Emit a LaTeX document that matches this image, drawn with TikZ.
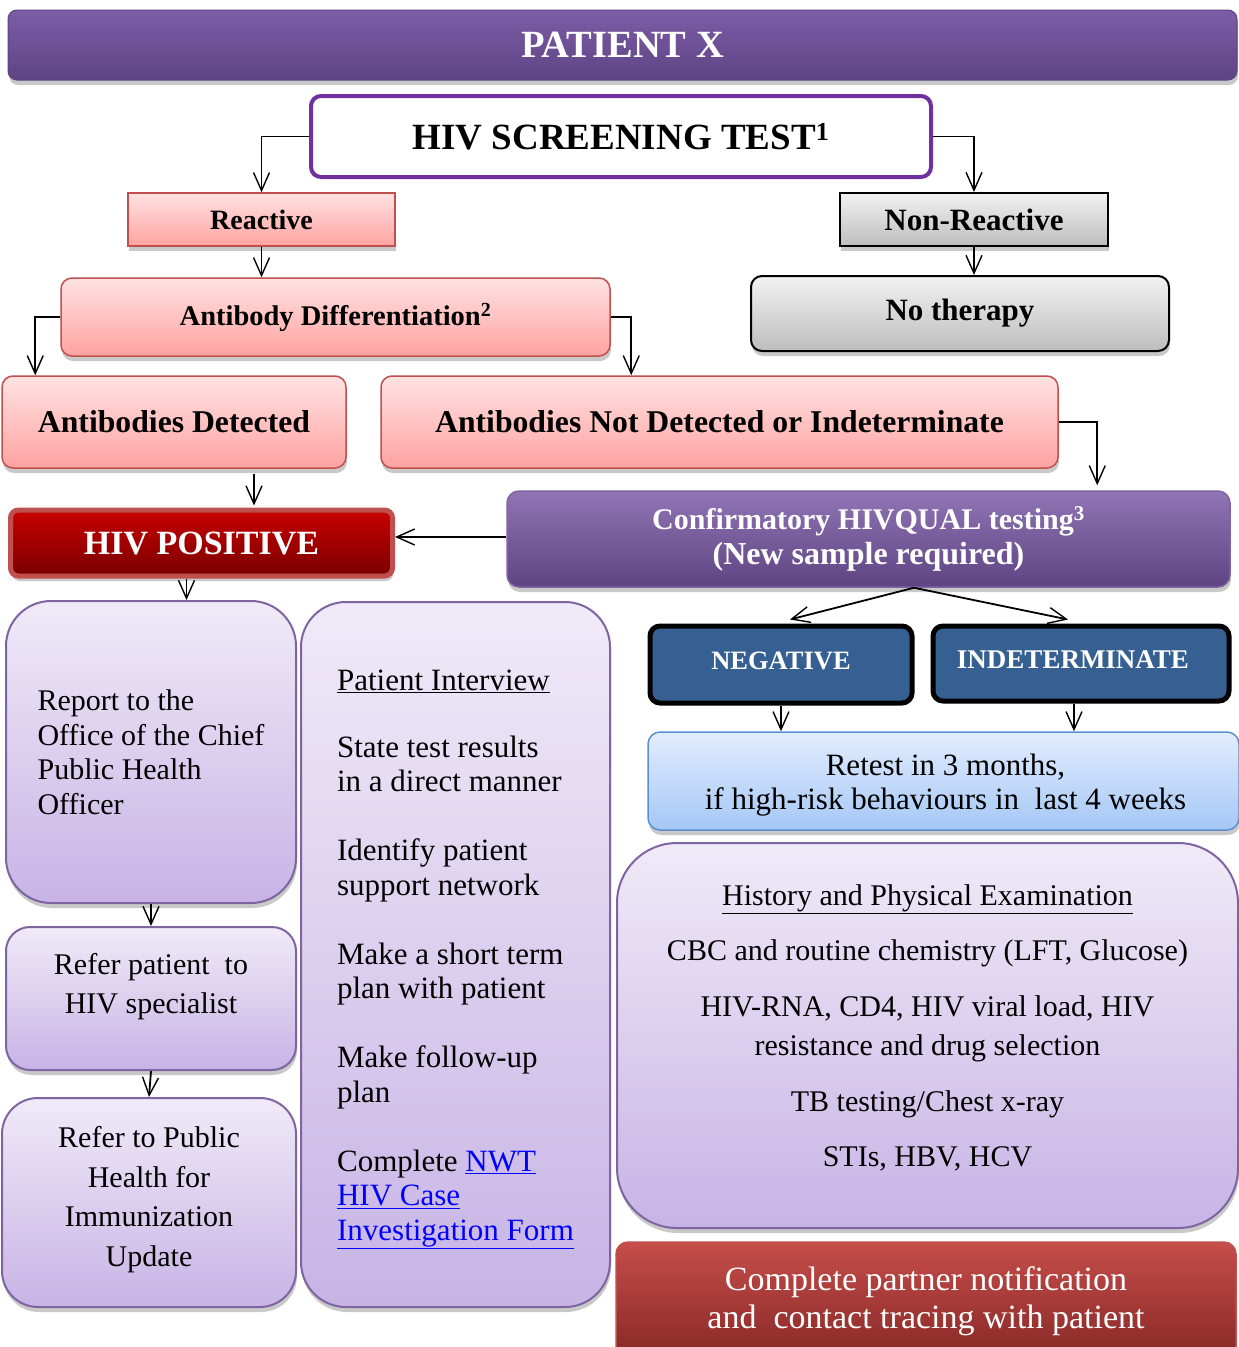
\documentclass[tikz,border=0pt]{standalone}
\usepackage{fontspec}
\setmainfont{Liberation Serif}
\usetikzlibrary{positioning, arrows.meta, shadows}

\definecolor{titletop}{HTML}{7D5CA8}
\definecolor{titlebot}{HTML}{5E4483}
\definecolor{screenline}{HTML}{7030A0}
\definecolor{pinktop}{HTML}{FFE2E2}
\definecolor{pinkbot}{HTML}{FFA3A1}
\definecolor{pinkline}{HTML}{C0504D}
\definecolor{greytop}{HTML}{F2F2F2}
\definecolor{greybot}{HTML}{BDBDBD}
\definecolor{postop}{HTML}{C80000}
\definecolor{posbot}{HTML}{7A0000}
\definecolor{posline}{HTML}{C0504D}
\definecolor{negfill}{HTML}{376092}
\definecolor{bluetop}{HTML}{E2EDFD}
\definecolor{bluebot}{HTML}{A5C7F6}
\definecolor{blueline}{HTML}{5B8FD0}
\definecolor{lavtop}{HTML}{F0EAF8}
\definecolor{lavbot}{HTML}{C7B4E5}
\definecolor{lavline}{HTML}{8064A2}
\definecolor{redtop}{HTML}{C64D4A}
\definecolor{redbot}{HTML}{862826}
\definecolor{linkblue}{HTML}{0000FF}

\newcommand{\doclink}[1]{\textcolor{linkblue}{\underline{#1}}}

\tikzset{
  boxshadow/.style={drop shadow={shadow xshift=1pt, shadow yshift=-5pt, opacity=.35, fill=black!60}},
  titlebar/.style={boxshadow, rounded corners=9pt, draw=titlebot, line width=1pt,
    top color=titletop, bottom color=titlebot, text=white,
    font=\fontsize{38.5}{40}\selectfont\bfseries},
  screenbox/.style={rounded corners=10pt, draw=screenline, line width=4pt, fill=white,
    font=\fontsize{37}{40}\selectfont\bfseries},
  pinkbox/.style={boxshadow, draw=pinkline, line width=1.5pt, top color=pinktop, bottom color=pinkbot,
    rounded corners=11pt, font=\fontsize{29}{34}\selectfont\bfseries},
  greybox/.style={boxshadow, draw=black, line width=2pt, top color=greytop, bottom color=greybot,
    rounded corners=11pt, font=\fontsize{31}{34}\selectfont\bfseries},
  posbox/.style={boxshadow, draw=posline, line width=5pt, top color=postop, bottom color=posbot,
    rounded corners=8pt, text=white, font=\fontsize{34}{38}\selectfont\bfseries},
  confbox/.style={boxshadow, draw=lavline, line width=1.5pt, top color=titletop!85!white, bottom color=titlebot,
    rounded corners=12pt, text=white, align=center, font=\fontsize{30}{35}\selectfont\bfseries},
  resultbox/.style={draw=black, line width=5pt, fill=negfill, rounded corners=10pt},
  resulttext/.style={text=white, font=\fontsize{26.5}{30}\selectfont\bfseries},
  retestbox/.style={boxshadow, draw=blueline, line width=1.5pt, top color=bluetop, bottom color=bluebot,
    rounded corners=12pt},
  lavbox/.style={boxshadow, draw=lavline, line width=2pt, top color=lavtop, bottom color=lavbot,
    font=\fontsize{30}{34.5}\selectfont},
  partnerbox/.style={boxshadow, draw=pinkline, line width=1.5pt, top color=redtop, bottom color=redbot,
    rounded corners=12pt, text=white, align=center, font=\fontsize{34}{38}\selectfont}
}

\begin{document}
\begin{tikzpicture}[x=1pt, y=-1pt, inner sep=0pt,
    >={Straight Barb[length=18pt, width=16pt, line width=1.4pt]},
    flow/.style={->, line width=1.8pt}]
  \useasboundingbox[fill=white] (0,0) rectangle (1239,1347);

  % Top of the chart
  \node[titlebar, minimum width=1229pt, minimum height=70pt] (title) at (622.5,45) {PATIENT X};
  \node[screenbox, minimum width=620pt, minimum height=81pt] (screen) at (621,136.5) {HIV SCREENING TEST\textsuperscript{1}};

  % Screening results
  \node[pinkbox, rounded corners=0pt, minimum width=267pt, minimum height=53pt, font=\fontsize{28}{32}\selectfont\bfseries] (reactive) at (261.5,219.5) {Reactive};
  \node[greybox, rounded corners=0pt, minimum width=268pt, minimum height=53pt] (nonreactive) at (974,219.5) {Non-Reactive};
  \node[pinkbox, minimum width=549pt, minimum height=78pt, font=\fontsize{28.5}{32}\selectfont\bfseries] (abdiff) at (335.5,317) {Antibody Differentiation\textsuperscript{2}};
  \node[greybox, minimum width=418pt, minimum height=75pt] (notherapy) at (960,313.5) {No therapy};

  % Antibody differentiation results
  \node[pinkbox, minimum width=344pt, minimum height=92pt, font=\fontsize{31.7}{34}\selectfont\bfseries] (abdet) at (174,422) {Antibodies Detected};
  \node[pinkbox, minimum width=677pt, minimum height=92pt, font=\fontsize{31.7}{34}\selectfont\bfseries] (abnot) at (719.5,422) {Antibodies Not Detected or Indeterminate};
  \node[posbox, minimum width=382pt, minimum height=66pt] (hivpos) at (201.5,543) {HIV POSITIVE};
  \node[confbox, minimum width=723pt, minimum height=96pt] (confirm) at (868.5,539) {Confirmatory HIVQUAL testing\textsuperscript{3}\\{\fontsize{32}{35}\selectfont (New sample required)}};

  % Confirmatory results
  \node[resultbox, minimum width=262pt, minimum height=77pt] (negative) at (781,664.5) {};
  \node[resulttext] (negativetext) at ([yshift=4pt]negative.center) {NEGATIVE};
  \node[resultbox, minimum width=296pt, minimum height=75pt] (indet) at (1081,663.5) {};
  \node[resulttext, font=\fontsize{27}{30}\selectfont\bfseries] (indettext) at ([xshift=-8pt, yshift=4pt]indet.center) {INDETERMINATE};
  \node[retestbox, minimum width=591pt, minimum height=98pt] (retest) at (943.5,781) {};
  \node[align=center, font=\fontsize{31}{34}\selectfont] (retesttext) at ([xshift=2pt, yshift=-4pt]retest.center)
    {Retest in 3 months,\\if high-risk behaviours in\ \ last 4 weeks};

  % Follow-up for a positive result
  \node[lavbox, rounded corners=45pt, minimum width=290pt, minimum height=302pt, align=left] (report) at (151,752)
    {Report to the\\Office of the Chief\\Public Health\\Officer};
  \node[lavbox, rounded corners=24pt, minimum width=290pt, minimum height=143pt] (referhiv) at (151,998.5) {};
  \node[align=center, font=\fontsize{30}{39}\selectfont] (referhivtext) at ([yshift=12pt]referhiv.center)
    {Refer patient\ \ to\\HIV specialist};
  \node[lavbox, rounded corners=36pt, minimum width=294pt, minimum height=209pt] (referph) at (149,1202.5) {};
  \node[align=center, font=\fontsize{30}{39.5}\selectfont] (referphtext) at ([yshift=3pt]referph.center)
    {Refer to Public\\Health for\\Immunization\\Update};
  \node[lavbox, rounded corners=45pt, minimum width=309pt, minimum height=705pt] (interview) at (455.5,954.5) {};
  \node[align=left, font=\fontsize{31}{34.5}\selectfont] (interviewtext) at ([yshift=-5pt]interview.center)
    {\underline{Patient Interview}\\[32.5pt]
     State test results\\in a direct manner\\[34.5pt]
     Identify patient\\support network\\[34.5pt]
     Make a short term\\plan with patient\\[34.5pt]
     Make follow-up\\plan\\[34.5pt]
     Complete \doclink{NWT}\\\doclink{HIV Case}\\\doclink{Investigation Form}};
  \node[lavbox, rounded corners=60pt, minimum width=621pt, minimum height=385pt] (history) at (927.5,1035.5) {};
  \node[align=center, font=\fontsize{30}{39}\selectfont] (historytext) at ([yshift=8pt]history.center)
    {\underline{History and Physical Examination}\\[16pt]
     CBC and routine chemistry (LFT, Glucose)\\[17pt]
     HIV-RNA, CD4, HIV viral load, HIV\\resistance and drug selection\\[17pt]
     TB testing/Chest x-ray\\[16pt]
     STIs, HBV, HCV};
  \node[partnerbox, minimum width=620pt, minimum height=118pt] (partner) at (926,1301)
    {Complete partner notification\\and\ \ contact tracing with patient};

  % Connectors
  \draw[flow] (screen.west) -| (reactive.north);
  \draw[flow] (screen.east) -| (nonreactive.north);
  \draw[flow] (reactive.south) -- (reactive.south |- abdiff.north);
  \draw[flow] (nonreactive.south) -- (nonreactive.south |- notherapy.north);
  \draw[flow] (abdiff.west) -| ([xshift=34pt]abdet.north west);
  \draw[flow] (abdiff.east) -| ([xshift=251pt]abnot.north west);
  \draw[flow] (abnot.east) -| ([xshift=591pt, yshift=5pt]confirm.north west);
  \draw[flow] ([xshift=80pt, yshift=-5pt]abdet.south) -- ([xshift=52.5pt, yshift=2pt]hivpos.north);
  \draw[flow] (confirm.west |- 0,537) -- (hivpos.east |- 0,537);
  \draw[flow] ([xshift=45.5pt]confirm.south) -- ([xshift=9pt, yshift=4pt]negative.north);
  \draw[flow] ([xshift=45.5pt]confirm.south) -- ([xshift=-13pt, yshift=4pt]indet.north);
  \draw[flow] (negative.south) -- (negative.south |- retest.north);
  \draw[flow] ([xshift=-7pt]indet.south) -- ([xshift=-7pt]indet.south |- retest.north);
  \draw[flow] ([xshift=-15pt]hivpos.south) -- ([xshift=-15pt]hivpos.south |- report.north);
  \draw[flow] (report.south) -- (referhiv.north);
  \draw[flow] (referhiv.south) -- (referph.north);
\end{tikzpicture}
\end{document}
